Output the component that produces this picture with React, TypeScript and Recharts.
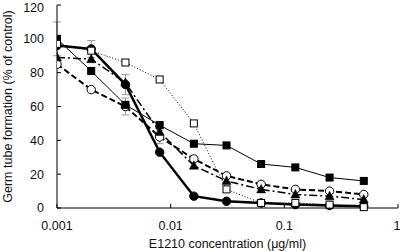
import React from 'react'
import { LineChart, Line, XAxis, YAxis, ErrorBar } from 'recharts'

const concentrations = [0.001, 0.002, 0.004, 0.008, 0.016, 0.031, 0.0625, 0.125, 0.25, 0.5]
const filledCircle = [96, 94, 73, 33, 7, 4, 3, 2, 1.5, 1]
const filledSquare = [100, 81, 61, 49, 38, 37, 26, 24, 18, 16]
const openSquare = [97, 93, 86, 76, 50, 11, 3, 3, 2, 0.5]
const triangle = [89, 88, 74, 45, 25, 16, 11, 8, 7, 5]
const openCircle = [85, 70, 60, 42, 29, 19, 14, 11, 10, 8]

// rough error estimates (only the visible whiskers)
const filledCircleErr = [0, 5, 6, 0, 0, 0, 0, 0, 0, 0]
const filledSquareErr = [10, 0, 0, 0, 0, 0, 0, 0, 0, 0]
const openCircleErr = [0, 0, 5, 4, 0, 0, 0, 0, 0, 0]

const xTicks = [0.001, 0.01, 0.1, 1]
const yTicks = [0, 20, 40, 60, 80, 100, 120]

const data = concentrations.map((c, i) => ({
  conc: c,
  fc: filledCircle[i],
  fs: filledSquare[i],
  os: openSquare[i],
  tri: triangle[i],
  oc: openCircle[i],
  fcErr: filledCircleErr[i],
  fsErr: filledSquareErr[i],
  ocErr: openCircleErr[i],
}))

const font = { fontFamily: 'Arial, "Liberation Sans", sans-serif', fontSize: 12.5, fill: '#111' }

const squareDot = (filled: boolean) => (props: any) => {
  const { cx, cy, index } = props
  if (cx == null || cy == null) return <g key={`s${index}`} />
  return (
    <rect key={`s${filled ? 'f' : 'o'}${index}`} x={cx - 3.5} y={cy - 3.5} width={7} height={7}
      fill={filled ? '#000' : '#fff'} stroke="#000" strokeWidth={1} />
  )
}

const circleDot = (filled: boolean) => (props: any) => {
  const { cx, cy, index } = props
  if (cx == null || cy == null) return <g key={`c${index}`} />
  return (
    <circle key={`c${filled ? 'f' : 'o'}${index}`} cx={cx} cy={cy} r={4.2}
      fill={filled ? '#000' : '#fff'} stroke="#000" strokeWidth={1} />
  )
}

const triangleDot = (props: any) => {
  const { cx, cy, index } = props
  if (cx == null || cy == null) return <g key={`t${index}`} />
  return (
    <polygon key={`t${index}`} points={`${cx},${cy - 5} ${cx - 4.5},${cy + 3.5} ${cx + 4.5},${cy + 3.5}`}
      fill="#000" stroke="#000" strokeWidth={0.5} />
  )
}

export default function App() {
  return (
    <div style={{ position: 'absolute', left: 0, top: 0, background: '#fff' }}>
      <LineChart width={400} height={251} data={data} margin={{ top: 5, right: 2, left: 0, bottom: 0 }}>
        <XAxis
          dataKey="conc"
          type="number"
          scale="log"
          domain={[0.001, 1]}
          ticks={xTicks}
          allowDataOverflow
          height={43}
          tickSize={-4}
          tickMargin={17}
          tick={font}
          axisLine={{ stroke: '#000' }}
          tickLine={{ stroke: '#000' }}
          tickFormatter={(v: number) => String(v)}
          label={{ value: 'E1210 concentration (μg/ml)', position: 'insideBottom', offset: 3, style: font }}
        />
        <YAxis
          type="number"
          domain={[0, 120]}
          ticks={yTicks}
          width={57}
          tickSize={-4}
          tickMargin={17}
          tick={font}
          axisLine={{ stroke: '#000' }}
          tickLine={{ stroke: '#000' }}
          label={{
            value: 'Germ tube formation (% of control)',
            angle: -90,
            position: 'insideLeft',
            offset: 8,
            style: { ...font, textAnchor: 'middle' },
          }}
        />
        <Line dataKey="oc" stroke="#000" strokeWidth={2} strokeDasharray="6 3" dot={circleDot(false)} isAnimationActive={false}>
          <ErrorBar dataKey="ocErr" direction="y" width={4} stroke="#999" strokeWidth={1} />
        </Line>
        <Line dataKey="fs" stroke="#000" strokeWidth={1} dot={squareDot(true)} isAnimationActive={false}>
          <ErrorBar dataKey="fsErr" direction="y" width={4} stroke="#999" strokeWidth={1} />
        </Line>
        <Line dataKey="tri" stroke="#000" strokeWidth={1.5} strokeDasharray="8 3 2 3" dot={triangleDot} isAnimationActive={false} />
        <Line dataKey="fc" stroke="#000" strokeWidth={2.5} dot={circleDot(true)} isAnimationActive={false}>
          <ErrorBar dataKey="fcErr" direction="y" width={4} stroke="#999" strokeWidth={1} />
        </Line>
        <Line dataKey="os" stroke="#000" strokeWidth={1} strokeDasharray="1 2" dot={squareDot(false)} isAnimationActive={false} />
      </LineChart>
    </div>
  )
}
